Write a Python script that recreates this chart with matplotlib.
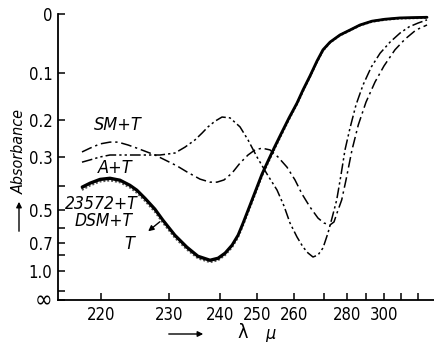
import numpy as np
import matplotlib
matplotlib.use("Agg")
import matplotlib.pyplot as plt
from matplotlib.scale import FuncScale
import matplotlib.patches as mpatches

# ---------------- data (wavelength in mμ, absorbance) ----------------
lam_T = [217.26, 218.43, 219.90, 221.36, 222.83, 224.29, 225.31, 226.49, 227.95, 229.12,
         231.18, 233.53, 235.69, 238.04, 239.61, 241.34, 243.22, 244.83, 246.17, 248.04,
         249.92, 251.28, 252.64, 254.55, 256.46, 258.64, 260.99, 262.97, 265.28, 267.59,
         269.57, 272.54, 277.01, 281.74, 287.0, 293.44, 300.59, 309.41, 325.57]
abs_T = [0.403, 0.388, 0.374, 0.370, 0.377, 0.396, 0.415, 0.448, 0.497, 0.553,
         0.644, 0.732, 0.813, 0.854, 0.833, 0.784, 0.716, 0.644, 0.570, 0.479,
         0.403, 0.356, 0.320, 0.275, 0.236, 0.196, 0.162, 0.134, 0.106, 0.078,
         0.058, 0.045, 0.033, 0.025, 0.017, 0.011, 0.008, 0.006, 0.005]
abs_23572 = [0.408, 0.392, 0.378, 0.374, 0.381, 0.400, 0.420, 0.454, 0.504, 0.561,
             0.653, 0.743, 0.825, 0.866, 0.845, 0.795, 0.726, 0.652, 0.577, 0.485,
             0.408, 0.360, 0.323, 0.278, 0.238, 0.198, 0.163, 0.135, 0.107, 0.079,
             0.059, 0.045, 0.033, 0.025, 0.017, 0.011, 0.008, 0.006, 0.005]
abs_DSM = [0.415, 0.398, 0.383, 0.379, 0.386, 0.406, 0.427, 0.461, 0.512, 0.570,
           0.664, 0.755, 0.838, 0.880, 0.858, 0.806, 0.736, 0.661, 0.585, 0.491,
           0.413, 0.364, 0.327, 0.281, 0.241, 0.200, 0.165, 0.137, 0.108, 0.080,
           0.060, 0.046, 0.034, 0.026, 0.018, 0.012, 0.009, 0.007, 0.006]

lam_SM = [217.26, 218.43, 219.90, 221.36, 222.53, 224.0, 225.31, 226.78, 227.95, 229.41,
          231.57, 233.53, 236.08, 238.04, 239.41, 241.07, 243.22, 245.36, 247.51, 249.38,
          251.28, 253.46, 255.64, 258.09, 260.33, 262.64, 265.28, 267.92, 269.90, 272.54,
          274.33, 275.67, 277.77, 279.69, 282.79, 286.11, 290.16, 295.08, 300.0, 306.47,
          312.40, 318.98, 325.57]
abs_SM = [0.286, 0.275, 0.263, 0.258, 0.258, 0.266, 0.275, 0.286, 0.295, 0.310,
          0.329, 0.349, 0.374, 0.385, 0.385, 0.377, 0.353, 0.320, 0.295, 0.280,
          0.275, 0.280, 0.301, 0.333, 0.377, 0.431, 0.488, 0.543, 0.570, 0.581,
          0.564, 0.517, 0.456, 0.377, 0.280, 0.213, 0.160, 0.118, 0.087, 0.058,
          0.040, 0.025, 0.017]

lam_A = [217.26, 218.43, 219.90, 221.36, 222.53, 224.29, 225.75, 227.22, 228.68, 229.85,
         231.18, 233.14, 235.10, 236.47, 237.65, 239.02, 240.54, 242.68, 245.36, 247.51,
         249.92, 252.64, 255.37, 257.27, 258.91, 260.99, 262.97, 264.62, 266.27, 267.92,
         269.57, 271.65, 273.44, 275.54, 277.46, 279.24, 281.74, 284.90, 288.58, 293.06,
         297.87, 303.53, 309.41, 314.79, 320.18, 325.57]
abs_A = [0.317, 0.310, 0.301, 0.295, 0.295, 0.295, 0.295, 0.295, 0.295, 0.292,
         0.289, 0.272, 0.252, 0.234, 0.218, 0.204, 0.194, 0.196, 0.218, 0.252,
         0.301, 0.356, 0.415, 0.483, 0.570, 0.657, 0.732, 0.784, 0.823, 0.803,
         0.740, 0.630, 0.543, 0.456, 0.359, 0.280, 0.221, 0.166, 0.124, 0.089,
         0.064, 0.045, 0.030, 0.020, 0.014, 0.009]

x_ticks = [220, 230, 240, 250, 260, 270, 280, 290, 300, 310, 320]
x_ticklabels = ["220", "230", "240", "250", "260", "", "280", "", "300", "", ""]
y_ticks_abs = [0.0, 0.1, 0.2, 0.3, 0.4, 0.5, 0.6, 0.7, 0.8, 1.0, 1.5]
y_ticklabels = ["0", "0.1", "0.2", "0.3", "", "0.5", "", "0.7", "", "1.0", ""]

# ---------------- the (irregular) wavelength scale of the original ----------------
_scale_lam = np.array([210, 220, 230, 240, 250, 260, 270, 280, 290, 300, 310, 320, 330], float)
_scale_pos = np.array([32.4, 100.7, 169, 220, 257.3, 294, 324.3, 346.7, 365.7, 384, 401, 417.7, 434.4])

def fwd(v):
    return np.interp(v, _scale_lam, _scale_pos)

def inv(p):
    return np.interp(p, _scale_pos, _scale_lam)

def trans(a):
    return 10.0 ** (-np.asarray(a, float))

plt.rcParams['font.family'] = ['DejaVu Sans']
plt.rcParams['font.stretch'] = 'condensed'

W, H = 434, 342
fig = plt.figure(figsize=(W / 100, H / 100), dpi=100)
ax = fig.add_axes([58 / W, 42 / H, (434 - 58) / W, (300 - 14) / H])
ax.set_xscale(FuncScale(ax, (fwd, inv)))
ax.set_xlim(inv(58), inv(434))
ax.set_ylim(0, 1)

k = 'black'
lkw = dict(solid_joinstyle='round', solid_capstyle='round', dash_joinstyle='round')
ax.plot(lam_T, trans(abs_DSM), color='#555555', lw=1.4, ls=(0, (1, 1)))
ax.plot(lam_T, trans(abs_23572), color=k, lw=1.2, **lkw)
ax.plot(lam_T, trans(abs_T), color=k, lw=2.0, **lkw)
ax.plot(lam_SM, trans(abs_SM), color=k, lw=1.1, ls=(0, (7, 2.5, 1.5, 2.5)))
ax.plot(lam_A, trans(abs_A), color=k, lw=1.1, ls=(0, (7, 2, 1.5, 2, 1.5, 2)))

for s in ['top', 'right']:
    ax.spines[s].set_visible(False)
for s in ['left', 'bottom']:
    ax.spines[s].set_linewidth(1.3)

ax.set_xticks(x_ticks)
ax.set_xticklabels(x_ticklabels)
ax.set_yticks(list(trans(y_ticks_abs)) + [0.0])
ax.set_yticklabels(y_ticklabels + ["∞"])
ax.tick_params(axis='both', direction='in', length=5, width=1.1, labelsize=12)
ax.tick_params(axis='y', pad=4)
ax.tick_params(axis='x', pad=4)
ax.minorticks_off()
ylabs = ax.get_yticklabels()
ylabs[-1].set_fontsize(17)
ylabs[-1].set_verticalalignment('center')

def px(x, y):
    return (x / W, 1 - y / H)

tkw = dict(style='italic', fontsize=13, ha='center', va='center')
fig.text(*px(118, 125), "SM+T", **tkw)
fig.text(*px(115, 168), "A+T", **tkw)
fig.text(*px(101, 204), "23572+T", style='italic', fontsize=12.5, ha='center', va='center')
fig.text(*px(104, 221), "DSM+T", style='italic', fontsize=12.5, ha='center', va='center')
fig.text(*px(129, 244), "T", **tkw)
fig.add_artist(mpatches.FancyArrowPatch(px(162, 220), px(146, 233),
               transform=fig.transFigure, arrowstyle='-|>', mutation_scale=8, lw=1, color=k))

fig.text(*px(19, 152), "Absorbance", rotation=90, style='italic', fontsize=11.5,
         ha='center', va='center')
fig.add_artist(mpatches.FancyArrowPatch(px(19, 234), px(19, 199),
               transform=fig.transFigure, arrowstyle='-|>', mutation_scale=8, lw=1, color=k))

fig.add_artist(mpatches.FancyArrowPatch(px(166, 334), px(206, 334),
               transform=fig.transFigure, arrowstyle='-|>', mutation_scale=8, lw=1, color=k))
fig.text(*px(243, 333), "λ", fontsize=14, ha='center', va='center')
fig.text(*px(270, 334), "μ", style='italic', fontsize=13, ha='center', va='center')

fig.savefig("out.png", dpi=100)
